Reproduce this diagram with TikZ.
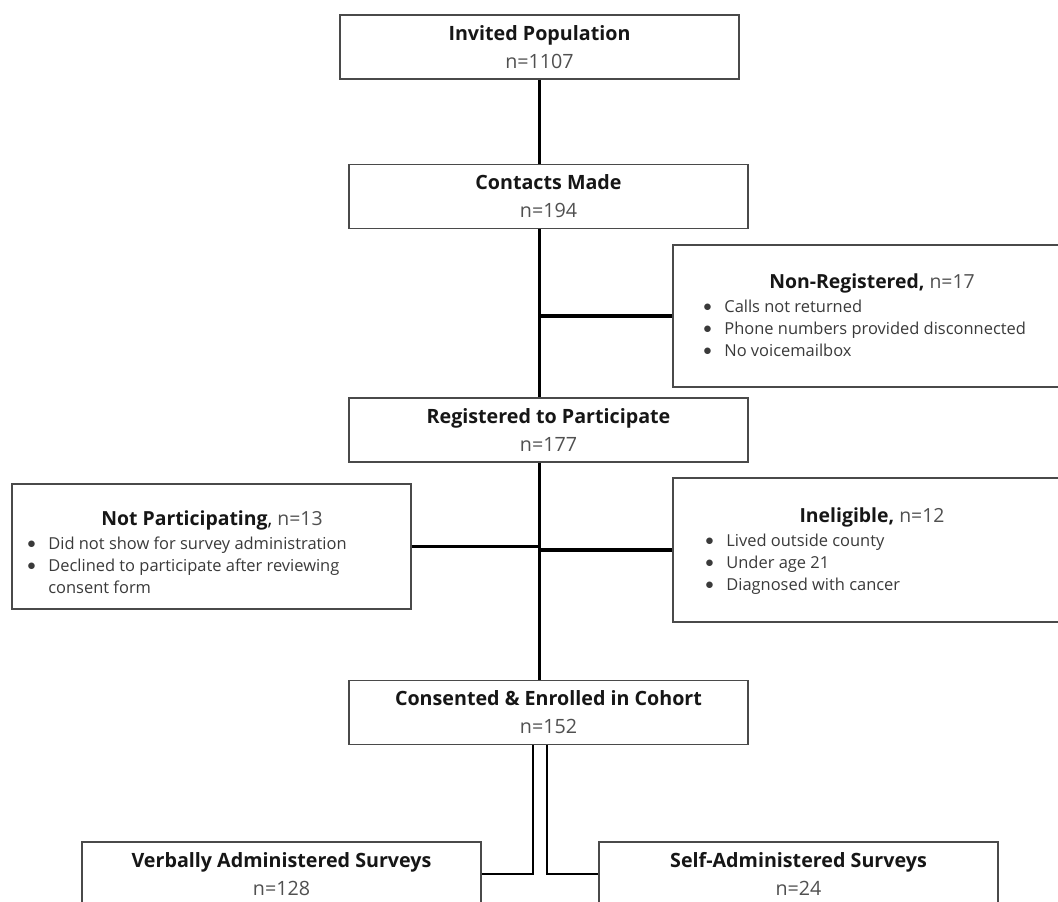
\documentclass[tikz,border=0pt]{standalone}
\usepackage{fontspec}
\setmainfont{Open Sans}
\usepackage{tikz}
\usetikzlibrary{positioning}
\definecolor{boxline}{HTML}{4A4A4A}
\definecolor{ngray}{HTML}{505050}
\definecolor{listgray}{HTML}{3A3A3A}
\definecolor{headblack}{HTML}{161616}

\newcommand{\bul}{\raisebox{0.5pt}{$\bullet$}}

\begin{document}
\begin{tikzpicture}[x=0.025cm,y=-0.025cm,
	stagebox/.style={rectangle,draw=boxline,line width=0.9pt,minimum width=9.975cm,minimum height=1.6cm,inner sep=0pt,align=center,text=headblack,font=\fontsize{14}{19.9}\selectfont},
	sidebox/.style={rectangle,draw=boxline,line width=0.9pt,minimum width=9.95cm,inner sep=0pt},
	headtext/.style={inner sep=0pt,text=headblack,font=\fontsize{13.8}{15}\selectfont},
	listtext/.style={inner sep=0pt,anchor=north west,align=left,text=listgray,font=\fontsize{11.7}{15.6}\selectfont},
	flow/.style={line width=2.2pt},
	fork/.style={line width=1.8pt}]
	
	\clip (0,0) rectangle (1058,901);
	\fill[white] (0,0) rectangle (1058,901);
	
	\node[stagebox] (invited) at (539.5,47) {\textbf{Invited Population}\\\textcolor{ngray}{n=1107}};
	\node[stagebox] (contacts) at (548.5,196.5) {\textbf{Contacts Made}\\\textcolor{ngray}{n=194}};
	\node[stagebox] (registered) at (548.5,430) {\textbf{Registered to Participate}\\\textcolor{ngray}{n=177}};
	\node[stagebox] (consented) at (548.5,712.5) {\textbf{Consented \& Enrolled in Cohort}\\\textcolor{ngray}{n=152}};
	\node[stagebox] (verbal) at (281.5,874) {\textbf{Verbally Administered Surveys}\\\textcolor{ngray}{n=128}};
	\node[stagebox] (self) at (798.5,874) {\textbf{Self-Administered Surveys}\\\textcolor{ngray}{n=24}};
	
	\node[sidebox,minimum height=3.55cm] (nonreg) at (872,316) {};
	\node[headtext] (nonreghead) at (872,283) {\textbf{Non-Registered,} \textcolor{ngray}{n=17}};
	\node[listtext] (nonreglist) at (703,297) {\begin{tabular}{@{}l@{\hspace{9pt}}l@{}}
		\bul & Calls not returned\\
		\bul & Phone numbers provided disconnected\\
		\bul & No voicemailbox
	\end{tabular}};
	
	\node[sidebox,minimum width=9.975cm,minimum height=3.125cm] (notpart) at (211.5,546.5) {};
	\node[headtext] (notparthead) at (212,520) {\textbf{Not Participating}, \textcolor{ngray}{n=13}};
	\node[listtext] (notpartlist) at (27,534) {\begin{tabular}{@{}l@{\hspace{9pt}}l@{}}
		\bul & Did not show for survey administration\\
		\bul & Declined to participate after reviewing\\
		& consent form
	\end{tabular}};
	
	\node[sidebox,minimum height=3.6cm] (ineligible) at (872,550) {};
	\node[headtext] (ineligiblehead) at (872,517) {\textbf{Ineligible,} \textcolor{ngray}{n=12}};
	\node[listtext] (ineligiblelist) at (705,531) {\begin{tabular}{@{}l@{\hspace{9pt}}l@{}}
		\bul & Lived outside county\\
		\bul & Under age 21\\
		\bul & Diagnosed with cancer
	\end{tabular}};
	
	\draw[flow] (invited.south) -- (invited.south |- contacts.north);
	\draw[flow] (invited.south |- contacts.south) -- (invited.south |- registered.north);
	\draw[flow] (invited.south |- nonreg.west) -- (nonreg.west);
	\draw[flow] (invited.south |- registered.south) -- (invited.south |- consented.north);
	\draw[flow] (notpart.east) -- (notpart.east -| invited.south);
	\draw[flow] (invited.south |- ineligible.west) -- (ineligible.west);
	\draw[fork] ([xshift=-0.39cm]consented.south) |- (verbal.east);
	\draw[fork] ([xshift=-0.04cm]consented.south) |- (self.west);
\end{tikzpicture}
\end{document}
